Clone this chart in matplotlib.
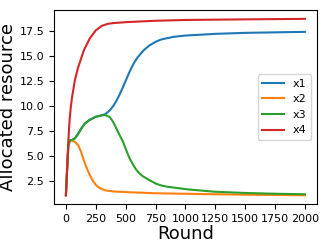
import numpy as np
import matplotlib
matplotlib.use("Agg")
import matplotlib.pyplot as plt

# values (round -> allocated resource)
r_x1 = [0, 10, 20, 33, 50, 75, 100, 125, 158, 200, 250, 300, 325, 350, 375, 400, 425, 450, 475,
        500, 525, 550, 575, 600, 650, 700, 750, 800, 900, 1000, 1250, 1500, 1750, 2000]
x1 = [1.1, 3.6, 6.0, 6.6, 6.62, 6.8, 7.2, 7.7, 8.27, 8.65, 8.95, 9.1, 9.2, 9.4, 9.7, 10.1, 10.6,
      11.2, 11.85, 12.55, 13.25, 13.9, 14.45, 14.9, 15.6, 16.1, 16.45, 16.7, 16.95, 17.08, 17.25,
      17.35, 17.4, 17.45]

r_x2 = [0, 10, 20, 33, 50, 75, 103, 125, 144, 165, 186, 205, 228, 250, 270, 300, 339, 400, 533,
        750, 1000, 1250, 1500, 2000]
x2 = [1.1, 3.6, 6.0, 6.6, 6.6, 6.45, 6.1, 5.5, 4.8, 4.1, 3.5, 3.0, 2.5, 2.15, 1.92, 1.72, 1.57,
      1.48, 1.4, 1.3, 1.25, 1.2, 1.16, 1.1]

r_x3 = [0, 10, 20, 33, 50, 75, 100, 125, 158, 200, 250, 300, 330, 367, 395, 422, 450, 478, 505,
        533, 560, 589, 615, 644, 700, 756, 800, 850, 922, 1033, 1250, 1500, 1750, 2000]
x3 = [1.1, 3.6, 6.0, 6.6, 6.62, 6.8, 7.2, 7.7, 8.27, 8.65, 8.95, 9.1, 9.12, 8.93, 8.45, 7.78, 7.1,
      6.45, 5.6, 4.8, 4.2, 3.65, 3.3, 3.0, 2.6, 2.25, 2.07, 1.95, 1.84, 1.67, 1.45, 1.33, 1.25,
      1.2]

r_x4 = [0, 10, 20, 30, 40, 50, 75, 100, 125, 150, 200, 250, 300, 350, 400, 500, 750, 1000,
        1500, 2000]
x4 = [1.1, 3.8, 6.5, 8.5, 9.8, 10.8, 12.6, 13.8, 14.7, 15.6, 16.8, 17.6, 18.05, 18.25, 18.33,
      18.42, 18.56, 18.64, 18.7, 18.75]

fig = plt.figure(figsize=(3.27, 2.45), dpi=100)
ax = fig.add_axes([0.165, 0.167, 0.804, 0.792])

ax.plot(r_x1, x1, color="#1f77b4", lw=1.5, label="x1")
ax.plot(r_x2, x2, color="#ff7f0e", lw=1.5, label="x2")
ax.plot(r_x3, x3, color="#2ca02c", lw=1.5, label="x3")
ax.plot(r_x4, x4, color="#d62728", lw=1.5, label="x4")

ax.set_xticks([0, 250, 500, 750, 1000, 1250, 1500, 1750, 2000])
ax.set_yticks([2.5, 5.0, 7.5, 10.0, 12.5, 15.0, 17.5])
ax.tick_params(labelsize=8)
ax.set_xlabel("Round", fontsize=13, labelpad=1)
ax.set_ylabel("Allocated resource", fontsize=13, labelpad=2)
ax.legend(loc="center right", fontsize=8)

fig.savefig("out.png", dpi=100)
